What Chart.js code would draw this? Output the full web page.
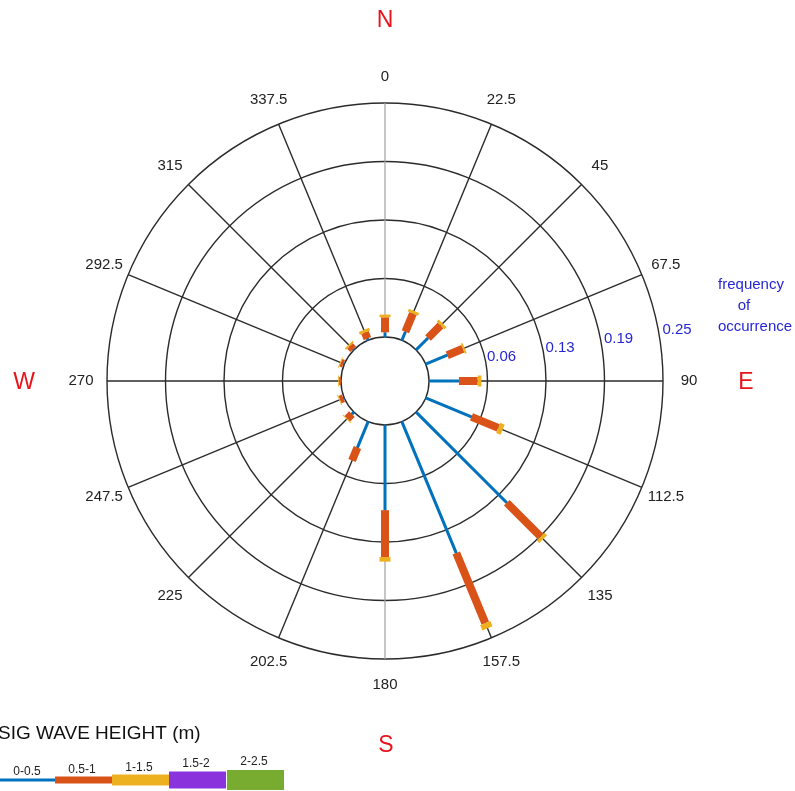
<!DOCTYPE html>
<html>
<head>
<meta charset="utf-8">
<script src="https://cdn.jsdelivr.net/npm/chart.js@4.4.1/dist/chart.umd.min.js"></script>
<style>
  html, body { margin: 0; padding: 0; background: #fff; }
  #wrap { position: relative; width: 795px; height: 791px; }
</style>
</head>
<body>
<div id="wrap"><canvas id="rose"></canvas></div>
<script>
// directions (deg, clockwise from north)
const directions = ["0", "22.5", "45", "67.5", "90", "112.5", "135", "157.5",
  "180", "202.5", "225", "247.5", "270", "292.5", "315", "337.5"];

// frequency of occurrence per wave height class
const h0_05 = [0.005, 0.010, 0.018, 0.025, 0.032, 0.053, 0.137, 0.152, 0.091, 0.030, 0.003, 0.001, 0.000, 0.001, 0.001, 0.002];
const h05_1 = [0.016, 0.021, 0.019, 0.018, 0.020, 0.031, 0.051, 0.081, 0.050, 0.015, 0.007, 0.004, 0.002, 0.003, 0.005, 0.007];
const h1_15 = [0.003, 0.003, 0.003, 0.002, 0.004, 0.005, 0.004, 0.006, 0.005, 0.000, 0.001, 0.001, 0.001, 0.001, 0.002, 0.003];
const h15_2 = [0, 0, 0, 0, 0, 0, 0, 0, 0, 0, 0, 0, 0, 0, 0, 0];
const h2_25 = [0, 0, 0, 0, 0, 0, 0, 0, 0, 0, 0, 0, 0, 0, 0, 0];

const classNames = ["0-0.5", "0.5-1", "1-1.5", "1.5-2", "2-2.5"];
const ringValues = [0, 0.0625, 0.125, 0.1875, 0.25];
const ringLabels = ["0.06", "0.13", "0.19", "0.25"];

const classColors = ["#0072BD", "#D95319", "#EDB120", "#8a32dc", "#77AC30"];
const classWidths = [3, 8, 11, 15, 19];

// stack the classes outwards
const series = [h0_05, h05_1, h1_15, h15_2, h2_25];
const stacked = [];
series.forEach((s, k) => {
  stacked.push(s.map((v, i) => v + (k > 0 ? stacked[k - 1][i] : 0)));
});

// empty hole in the middle: value 0 sits at 44px of a 278px radius
const scaleMin = -0.25 * 44 / 234;

const rosePlugin = {
  id: "rose",
  beforeDatasetsDraw(chart) {
    const r = chart.scales.r, ctx = chart.ctx;
    ctx.save();
    directions.forEach((d, i) => {
      const a = r.getPointPositionForValue(i, 0);
      const b = r.getPointPositionForValue(i, 0.25);
      ctx.strokeStyle = (i % 8 === 0) ? "#a0a0a0" : "#2b2b2b";
      ctx.lineWidth = (i % 8 === 0) ? 1.2 : 1.4;
      ctx.beginPath();
      ctx.moveTo(a.x, a.y);
      ctx.lineTo(b.x, b.y);
      ctx.stroke();
    });
    ctx.beginPath();
    ctx.arc(r.xCenter, r.yCenter, r.getDistanceFromCenterForValue(0), 0, 2 * Math.PI);
    ctx.fillStyle = "#fff";
    ctx.fill();
    ctx.strokeStyle = "#2b2b2b";
    ctx.lineWidth = 1.4;
    ctx.stroke();
    ctx.restore();
  },
  afterDatasetsDraw(chart) {
    const r = chart.scales.r, ctx = chart.ctx;
    const sets = chart.data.datasets;
    ctx.save();
    ctx.lineCap = "butt";
    sets.forEach((ds, k) => {
      ds.data.forEach((v, i) => {
        const v0 = k > 0 ? sets[k - 1].data[i] : 0;
        if (v - v0 <= 0) return;
        const a = r.getPointPositionForValue(i, v0);
        const b = r.getPointPositionForValue(i, v);
        ctx.strokeStyle = classColors[k];
        ctx.lineWidth = classWidths[k];
        ctx.beginPath();
        ctx.moveTo(a.x, a.y);
        ctx.lineTo(b.x, b.y);
        ctx.stroke();
      });
    });
    ctx.restore();
  },
  afterDraw(chart) {
    const r = chart.scales.r, ctx = chart.ctx;
    ctx.save();
    ctx.textAlign = "center";
    ctx.textBaseline = "middle";

    // direction labels
    ctx.fillStyle = "#222";
    ctx.font = "15px 'Liberation Sans', Arial, sans-serif";
    directions.forEach((d, i) => {
      const p = r.getPointPosition(i, 304);
      ctx.fillText(d, p.x, p.y);
    });

    // ring labels
    ctx.fillStyle = "#2626d6";
    ringLabels.forEach((t, j) => {
      const d = r.getDistanceFromCenterForValue(ringValues[j + 1]);
      ctx.fillText(t, r.xCenter + d + 14, r.yCenter - (8 + 0.155 * d));
    });
    ctx.fillText("frequency", 751, 285);
    ctx.fillText("of", 744, 306);
    ctx.fillText("occurrence", 755, 327);

    // compass letters
    ctx.fillStyle = "#e8141c";
    ctx.font = "23px 'Liberation Sans', Arial, sans-serif";
    ctx.fillText("N", r.xCenter, 21);
    ctx.fillText("S", r.xCenter + 1, 746);
    ctx.fillText("E", 746, r.yCenter + 2);
    ctx.fillText("W", 24, r.yCenter + 2);

    // legend
    ctx.fillStyle = "#111";
    ctx.textAlign = "left";
    ctx.font = "19px 'Liberation Sans', Arial, sans-serif";
    ctx.fillText("SIG WAVE HEIGHT (m)", -2, 734);
    const boxX = [0, 55, 112, 169, 227];
    const boxW = 57;
    const boxH = [3, 7, 11, 17, 20];
    const labY = [772, 770, 768, 764, 762];
    ctx.textAlign = "center";
    ctx.font = "12px 'Liberation Sans', Arial, sans-serif";
    classNames.forEach((c, k) => {
      ctx.fillStyle = classColors[k];
      ctx.fillRect(boxX[k], 780 - boxH[k] / 2, boxW, boxH[k]);
      ctx.fillStyle = "#222";
      ctx.fillText(c, boxX[k] + 27, labY[k]);
    });
    ctx.restore();
  }
};

const config = {
  type: "radar",
  data: {
    labels: directions,
    datasets: classNames.map((c, k) => ({
      label: c,
      data: stacked[k],
      fill: false,
      showLine: false,
      pointRadius: 0,
      pointHoverRadius: 0,
      borderColor: "rgba(0,0,0,0)",
      backgroundColor: "rgba(0,0,0,0)",
    })),
  },
  options: {
    responsive: true,
    maintainAspectRatio: false,
    animation: false,
    layout: { padding: { left: 107, right: 132, top: 103, bottom: 132 } },
    plugins: { legend: { display: false }, tooltip: { enabled: false } },
    scales: {
      r: {
        min: scaleMin,
        max: 0.25,
        startAngle: 0,
        angleLines: { display: false },
        grid: {
          circular: true,
          color: (c) => (c.index === 0 ? "rgba(0,0,0,0)" : "#2b2b2b"),
          lineWidth: 1.4,
        },
        pointLabels: { display: false },
        ticks: { display: false },
        afterBuildTicks: (s) => {
          s.ticks = ringValues.map((v) => ({ value: v }));
        },
      },
    },
  },
  plugins: [rosePlugin],
};

var ctx = document.getElementById("rose").getContext("2d");
var roseChart = new Chart(ctx, config);
</script>
</body>
</html>
